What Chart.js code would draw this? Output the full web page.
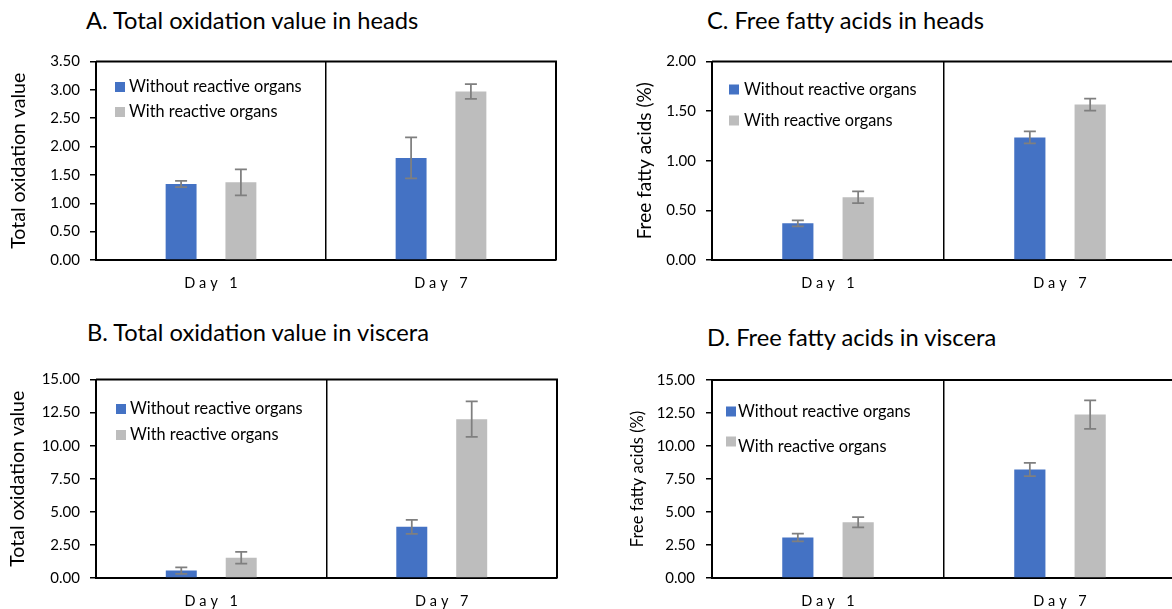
<!DOCTYPE html>
<html><head><meta charset="utf-8">
<script src="https://cdn.jsdelivr.net/npm/chart.js@4.4.0/dist/chart.umd.min.js"></script>
<style>
html,body{margin:0;padding:0;background:#fff;}
body{width:1172px;height:609px;overflow:hidden;position:relative;}
canvas{position:absolute;}
.t{position:absolute;font-family:Lato,sans-serif;font-size:23.7px;line-height:normal;color:#000;white-space:nowrap;}
</style></head><body>
<div class="t" style="left:86px;top:5.9px">A. Total oxidation value in heads</div>
<div class="t" style="left:87px;top:317.6px">B. Total oxidation value in viscera</div>
<div class="t" style="left:707px;top:5.9px">C. Free fatty acids in heads</div>
<div class="t" style="left:707px;top:323.3px">D. Free fatty acids in viscera</div>
<canvas id="cA" width="586" height="300" style="left:0;top:0"></canvas>
<canvas id="cB" width="586" height="309" style="left:0;top:300px"></canvas>
<canvas id="cC" width="600" height="300" style="left:586px;top:0"></canvas>
<canvas id="cD" width="600" height="309" style="left:586px;top:300px"></canvas>
<script>
// ---- data ----
const categories = ['Day 1', 'Day 7'];
const seriesLabels = ['Without reactive organs', 'With reactive organs'];

const headsOxWithout = [1.34, 1.80];
const headsOxWithoutErr = [0.055, 0.36];
const headsOxWith = [1.37, 2.97];
const headsOxWithErr = [0.23, 0.13];

const visceraOxWithout = [0.56, 3.87];
const visceraOxWithoutErr = [0.25, 0.53];
const visceraOxWith = [1.53, 12.0];
const visceraOxWithErr = [0.44, 1.34];

const headsFfaWithout = [0.37, 1.235];
const headsFfaWithoutErr = [0.03, 0.06];
const headsFfaWith = [0.632, 1.566];
const headsFfaWithErr = [0.06, 0.06];

const visceraFfaWithout = [3.07, 8.22];
const visceraFfaWithoutErr = [0.30, 0.50];
const visceraFfaWith = [4.22, 12.38];
const visceraFfaWithErr = [0.39, 1.08];

const COLORS = ['#4472C4', '#BDBDBD'];

const errorBars = {
  id: 'errorBars',
  afterDatasetsDraw(chart) {
    const ctx = chart.ctx, ys = chart.scales.y;
    ctx.save();
    ctx.strokeStyle = '#7F7F7F';
    ctx.lineWidth = 1.75;
    chart.data.datasets.forEach((ds, di) => {
      const meta = chart.getDatasetMeta(di);
      meta.data.forEach((bar, i) => {
        const v = ds.data[i], e = ds.err[i];
        const yt = ys.getPixelForValue(v + e), yb = ys.getPixelForValue(v - e);
        const x = bar.x;
        ctx.beginPath();
        ctx.moveTo(x, yt); ctx.lineTo(x, yb);
        ctx.moveTo(x - 6, yt); ctx.lineTo(x + 6, yt);
        ctx.moveTo(x - 6, yb); ctx.lineTo(x + 6, yb);
        ctx.stroke();
      });
    });
    ctx.restore();
  }
};

const frameAndLabels = {
  id: 'frameAndLabels',
  afterDraw(chart, args, opts) {
    const ctx = chart.ctx, a = chart.chartArea, xs = chart.scales.x;
    ctx.save();
    ctx.strokeStyle = '#000';
    ctx.lineWidth = 2;
    ctx.beginPath();
    ctx.moveTo(a.left, a.top); ctx.lineTo(a.right, a.top); ctx.lineTo(a.right, a.bottom);
    ctx.stroke();
    // category labels
    ctx.fillStyle = '#000';
    ctx.font = '14.5px Lato';
    if ('letterSpacing' in ctx) ctx.letterSpacing = '4px';
    ctx.textAlign = 'center';
    ctx.textBaseline = 'middle';
    chart.data.labels.forEach((lab, i) => {
      ctx.fillText(lab, xs.getPixelForValue(i) + 2, a.bottom + 23);
    });
    if ('letterSpacing' in ctx) ctx.letterSpacing = '0px';
    // legend
    const L = opts.legend;
    ctx.font = L.size + 'px Lato';
    ctx.textAlign = 'left';
    ctx.textBaseline = 'middle';
    chart.data.datasets.forEach((ds, di) => {
      const by = a.top + L.rows[di];
      const ty = a.top + (L.textRows ? L.textRows[di] : L.rows[di]);
      ctx.fillStyle = ds.backgroundColor;
      ctx.fillRect(a.left + L.x, by - 5, 10, 10);
      ctx.fillStyle = '#000';
      ctx.fillText(ds.label, a.left + L.x + L.gap, ty);
    });
    ctx.restore();
  }
};

function makeChart(id, c) {
  new Chart(document.getElementById(id), {
    type: 'bar',
    data: {
      labels: categories,
      datasets: [
        { label: seriesLabels[0], data: c.d1, err: c.e1, backgroundColor: COLORS[0],
          categoryPercentage: 0.52, barPercentage: 0.517 },
        { label: seriesLabels[1], data: c.d2, err: c.e2, backgroundColor: COLORS[1],
          categoryPercentage: 0.52, barPercentage: 0.517 }
      ]
    },
    options: {
      responsive: false,
      animation: false,
      layout: { padding: { left: 0, top: c.top, right: c.right, bottom: 0 } },
      plugins: {
        legend: { display: false },
        tooltip: { enabled: false },
        frameAndLabels: { legend: c.legend }
      },
      scales: {
        x: {
          ticks: { display: false },
          grid: { display: true, offset: true, drawOnChartArea: true, drawTicks: false, color: '#000', lineWidth: 1.5 },
          border: { display: true, color: '#000', width: 2 },
          afterFit: s => { s.height = c.xh; }
        },
        y: {
          min: 0, max: c.max,
          ticks: { stepSize: c.step, callback: v => Number(v).toFixed(2),
                   font: { family: 'Lato', size: 15 }, color: '#000', padding: c.tp },
          grid: { drawOnChartArea: false, drawTicks: true, tickLength: 6, color: '#000', lineWidth: 1.5 },
          border: { display: true, color: '#000', width: 2 },
          title: { display: true, text: c.ytitle, color: '#000',
                   font: { family: 'Lato', size: c.yfs }, padding: { top: c.ytp, bottom: 0 } },
          afterFit: s => { s.width = c.yw; }
        }
      }
    },
    plugins: [errorBars, frameAndLabels]
  });
}

makeChart('cA', { d1: headsOxWithout, e1: headsOxWithoutErr, d2: headsOxWith, e2: headsOxWithErr,
  max: 3.5, step: 0.5, top: 61.5, right: 30, xh: 40, yw: 96, tp: 10,
  ytitle: 'Total oxidation value', yfs: 19.5, ytp: 7.5,
  legend: { x: 19, gap: 14, size: 16.3, rows: [25.5, 50.5] } });

makeChart('cB', { d1: visceraOxWithout, e1: visceraOxWithoutErr, d2: visceraOxWith, e2: visceraOxWithErr,
  max: 15, step: 2.5, top: 79.5, right: 29, xh: 31, yw: 96, tp: 10,
  ytitle: 'Total oxidation value', yfs: 19.5, ytp: 6.5,
  legend: { x: 20, gap: 14, size: 16.3, rows: [29.5, 55.5] } });

makeChart('cC', { d1: headsFfaWithout, e1: headsFfaWithoutErr, d2: headsFfaWith, e2: headsFfaWithErr,
  max: 2, step: 0.5, top: 61.5, right: 10, xh: 40, yw: 126, tp: 10,
  ytitle: 'Free fatty acids (%)', yfs: 19, ytp: 47.5,
  legend: { x: 17, gap: 15, size: 16.3, rows: [28, 59] } });

makeChart('cD', { d1: visceraFfaWithout, e1: visceraFfaWithoutErr, d2: visceraFfaWith, e2: visceraFfaWithErr,
  max: 15, step: 2.5, top: 80, right: 10, xh: 31, yw: 126, tp: 11,
  ytitle: 'Free fatty acids (%)', yfs: 16.5, ytp: 42,
  legend: { x: 14, gap: 12, size: 16.3, rows: [31.5, 61.5], textRows: [31.5, 67] } });
</script>
</body></html>
